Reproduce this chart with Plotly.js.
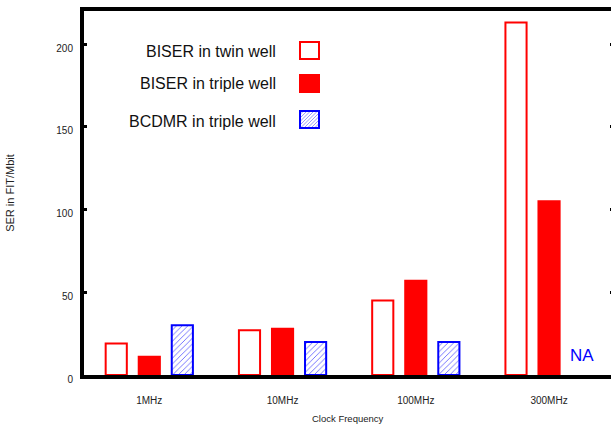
<!DOCTYPE html>
<html>
<head>
<meta charset="utf-8">
<script src="https://cdn.plot.ly/plotly-3.0.1.min.js"></script>
<style>
html,body{margin:0;padding:0;overflow:hidden;background:#fff;width:611px;height:426px;}
#chart{width:700px;height:426px;}
</style>
</head>
<body>
<div id="chart"></div>
<script>
// ---- data ----
const categories = ["1MHz", "10MHz", "100MHz", "300MHz"];
const biserTwin = [19, 27, 45, 213];
const biserTriple = [11, 28, 57, 105];
const bcdmrTriple = [30, 20, 20, null];
const seriesNames = ["BISER in twin well", "BISER in triple well", "BCDMR in triple well"];
const yTicks = [0, 50, 100, 150, 200];
const naLabel = "NA";
const xTitle = "Clock Frequency";
const yTitle = "SER in FIT/Mbit";

// ---- layout helpers (pixel -> paper) ----
const W = 700, H = 426;
const M = {l: 84, r: W - 84 - 545, t: 11, b: 51};
const PW = W - M.l - M.r, PH = H - M.t - M.b;
const px = x => (x - M.l) / PW;
const py = y => (H - M.b - y) / PH;
const FONT = "Liberation Sans, Arial, sans-serif";

const traces = [
  {type: "bar", name: seriesNames[0], x: categories, y: biserTwin,
   marker: {color: "#ffffff", line: {color: "#ff0000", width: 2}}},
  {type: "bar", name: seriesNames[1], x: categories, y: biserTriple,
   marker: {color: "#ff0000", line: {color: "#ff0000", width: 2}}},
  {type: "bar", name: seriesNames[2], x: categories, y: bcdmrTriple,
   marker: {color: "#ffffff", line: {color: "#0000ff", width: 2},
            pattern: {shape: "/", fgcolor: "#5555ff", bgcolor: "#ffffff", size: 4, solidity: 0.2}}}
];

const keyX0 = 300, keyX1 = 319;
const keys = [[42, 59], [75, 92], [111, 128]];
const shapes = [
  {type: "rect", xref: "paper", yref: "paper", x0: px(keyX0), x1: px(keyX1), y0: py(keys[0][1]), y1: py(keys[0][0]),
   line: {color: "#ff0000", width: 2}, fillcolor: "#ffffff"},
  {type: "rect", xref: "paper", yref: "paper", x0: px(keyX0), x1: px(keyX1), y0: py(keys[1][1]), y1: py(keys[1][0]),
   line: {color: "#ff0000", width: 2}, fillcolor: "#ff0000"}
];
let hp = "";
const ky0 = keys[2][0], ky1 = keys[2][1];
for (let s = keyX0 - (ky1 - ky0); s < keyX1; s += 3.5) {
  let xa = s, ya = ky1, xb = s + (ky1 - ky0), yb = ky0;
  if (xa < keyX0) { ya = ky1 - (keyX0 - xa); xa = keyX0; }
  if (xb > keyX1) { yb = ky0 + (xb - keyX1); xb = keyX1; }
  if (xb <= xa) continue;
  hp += `M${px(xa)},${py(ya)}L${px(xb)},${py(yb)}`;
}
shapes.push({type: "path", xref: "paper", yref: "paper", path: hp, line: {color: "#8080ff", width: 0.8}});
shapes.push({type: "rect", xref: "paper", yref: "paper", x0: px(keyX0), x1: px(keyX1), y0: py(ky1), y1: py(ky0),
   line: {color: "#0000ff", width: 2}, fillcolor: "rgba(0,0,0,0)"});

const textY = [51, 84, 121];
const annotations = seriesNames.map((n, i) => ({
  xref: "paper", yref: "paper", x: px(278), y: py(textY[i]), xanchor: "right", yanchor: "middle",
  text: n, showarrow: false, font: {family: FONT, size: 16, color: "#111"}
}));
annotations.push({
  x: categories[3], y: 12, xshift: 33, text: naLabel, showarrow: false,
  font: {family: FONT, size: 17, color: "#0000ff"}
});
// x-axis title, centred on the visible frame (whose right side lies just outside the picture)
annotations.push({
  xref: "paper", yref: "paper", x: px(348), y: py(418.5), xanchor: "center", yanchor: "middle",
  text: xTitle, showarrow: false, font: {family: FONT, size: 9.5, color: "#222"}
});

const layout = {
  width: W, height: H,
  margin: M,
  paper_bgcolor: "#ffffff", plot_bgcolor: "#ffffff",
  barmode: "group", bargap: 0.256, bargroupgap: 0.36,
  showlegend: false,
  font: {family: FONT, color: "#222"},
  xaxis: {
    type: "category", range: [-0.49, 3.6],
    showline: true, linewidth: 4, linecolor: "#000", mirror: true,
    ticks: "", showgrid: false, zeroline: false,
    tickfont: {size: 10, color: "#222"}, ticklabelstandoff: 13
  },
  yaxis: {
    range: [0, 220], tickvals: yTicks, ticktext: yTicks.map(String),
    showline: true, linewidth: 4, linecolor: "#000", mirror: false,
    ticks: "inside", ticklen: 3, tickwidth: 3, tickcolor: "#000",
    showgrid: false, zeroline: false,
    tickfont: {size: 10, color: "#222"}, ticklabelstandoff: 5, ticklabelshift: 4,
    title: {text: yTitle, font: {size: 11, color: "#222"}, standoff: 40}
  },
  // right-side inward ticks of the frame
  yaxis2: {
    overlaying: "y", side: "right", anchor: "free", position: px(612.5),
    range: [0, 220], tickvals: yTicks, showticklabels: false,
    showline: false, ticks: "inside", ticklen: 3, tickwidth: 3, tickcolor: "#000",
    showgrid: false, zeroline: false
  },
  shapes: shapes,
  annotations: annotations
};
traces.push({type: "scatter", x: [], y: [], yaxis: "y2", showlegend: false, hoverinfo: "skip"});

Plotly.newPlot("chart", traces, layout, {displayModeBar: false, staticPlot: true});
</script>
</body>
</html>
